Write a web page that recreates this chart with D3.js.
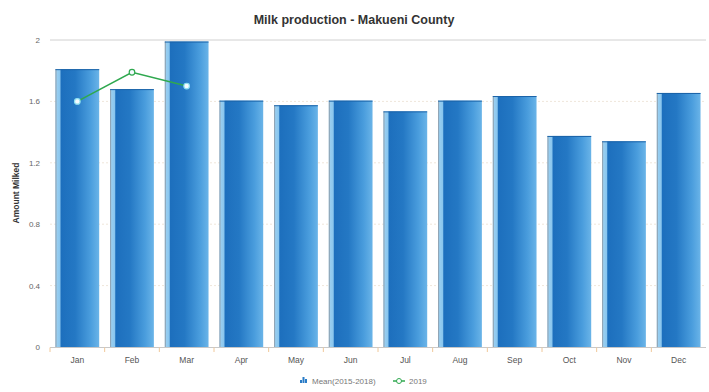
<!DOCTYPE html>
<html><head><meta charset="utf-8">
<script src="https://cdn.jsdelivr.net/npm/d3@7"></script>
<style>body{margin:0;background:#fff;}svg{display:block;font-family:"Liberation Sans",Arial,sans-serif;}</style>
</head><body><svg id="c" width="709" height="392"></svg>
<script>
const months = ["Jan","Feb","Mar","Apr","May","Jun","Jul","Aug","Sep","Oct","Nov","Dec"];
const meanValues = [1.81,1.68,1.99,1.605,1.575,1.605,1.535,1.605,1.635,1.375,1.34,1.655];
const months2019 = ["Jan","Feb","Mar"];
const values2019 = [1.60,1.79,1.70];
const yTicks = [0,0.4,0.8,1.2,1.6,2];
const yTickLabels = ["0","0.4","0.8","1.2","1.6","2"];
const seriesNames = ["Mean(2015-2018)","2019"];

const svg = d3.select("#c");
const m = {l:50, r:3, t:40, b:45};
const W = 709, H = 392;
const x = d3.scaleBand().domain(months).range([m.l, W-m.r]).paddingInner(0.2).paddingOuter(0.1);
const xc = d3.scaleBand().domain(months).range([m.l, W-m.r]);
const y = d3.scaleLinear().domain([0,2]).range([347, 40]);

const defs = svg.append("defs");
const g = defs.append("linearGradient").attr("id","bg").attr("x1","0").attr("x2","1").attr("y1","0").attr("y2","0");
[[0,"#9fd2f2"],[0.1,"#8ac6ee"],[0.13,"#1d6fbd"],[0.45,"#2478c4"],[0.8,"#4a9ddd"],[1,"#6ab4e8"]].forEach(s=>g.append("stop").attr("offset",s[0]).attr("stop-color",s[1]));

// title
svg.append("text").attr("x",354).attr("y",24).attr("text-anchor","middle").attr("font-size",12.5).attr("font-weight","bold").attr("fill","#333").text("Milk production - Makueni County");

// grid
svg.append("g").selectAll("line").data(yTicks.filter(d=>d>0)).join("line")
  .attr("x1",m.l).attr("x2",W-m.r).attr("y1",d=>y(d)).attr("y2",d=>y(d))
  .attr("stroke",d=>d===2?"#d0d0d0":"#efe6da").attr("stroke-width",1)
  .attr("stroke-dasharray",d=>d===2?null:"2,2");

// y axis labels
const yAxis = d3.axisLeft(y).tickValues(yTicks).tickFormat((d,i)=>yTickLabels[i]).tickSize(0).tickPadding(10);
const ya = svg.append("g").attr("transform",`translate(${m.l},0)`).call(yAxis);
ya.select(".domain").remove();
ya.selectAll("text").attr("font-size",8).attr("fill","#666").attr("font-family","Liberation Sans, Arial, sans-serif");

svg.append("text").attr("transform","translate(19,193) rotate(-90)").attr("text-anchor","middle")
  .attr("font-size",8.5).attr("font-weight","bold").attr("fill","#333").text("Amount Milked");

// bars
const bars = svg.append("g");
bars.selectAll("rect.b").data(meanValues).join("rect").attr("class","b")
  .attr("x",(d,i)=>x(months[i])).attr("width",x.bandwidth())
  .attr("y",d=>y(d)).attr("height",d=>y(0)-y(d)).attr("fill","url(#bg)");
bars.selectAll("line.s").data(meanValues).join("line").attr("class","s")
  .attr("x1",(d,i)=>x(months[i])+0.5).attr("x2",(d,i)=>x(months[i])+0.5)
  .attr("y1",d=>y(d)).attr("y2",y(0)).attr("stroke","#8e9fae").attr("stroke-width",1);
bars.selectAll("line.t").data(meanValues).join("line").attr("class","t")
  .attr("x1",(d,i)=>x(months[i])).attr("x2",(d,i)=>x(months[i])+x.bandwidth())
  .attr("y1",d=>y(d)+0.5).attr("y2",d=>y(d)+0.5).attr("stroke","#1b63a8").attr("stroke-width",1);

// x axis
svg.append("line").attr("x1",m.l).attr("x2",W-m.r).attr("y1",347.5).attr("y2",347.5).attr("stroke","#c8c8c8");
svg.append("g").selectAll("line").data(months).join("line")
  .attr("x1",d=>xc(d)).attr("x2",d=>xc(d)).attr("y1",347.5).attr("y2",352).attr("stroke","#f0c89a");
const xa = svg.append("g").attr("transform","translate(0,347)").call(d3.axisBottom(xc).tickSize(0).tickPadding(10));
xa.select(".domain").remove();
xa.selectAll("text").attr("font-size",8.5).attr("fill","#555").attr("font-family","Liberation Sans, Arial, sans-serif");

// line 2019
const line = d3.line().x((d,i)=>xc(months2019[i])+xc.bandwidth()/2).y(d=>y(d));
svg.append("path").datum(values2019).attr("d",line).attr("fill","none").attr("stroke","#2fa84f").attr("stroke-width",1.6);
svg.append("g").selectAll("circle").data(values2019).join("circle")
  .attr("cx",(d,i)=>xc(months2019[i])+xc.bandwidth()/2).attr("cy",d=>y(d)).attr("r",2.8)
  .attr("fill","#f4fbff").attr("stroke",(d,i)=>i===1?"#2fa84f":"#8fe0f0").attr("stroke-width",1.2);

// legend
const lg = svg.append("g");
const ix = 300, iy = 381;
[[0,3,2],[2.5,6,2],[5,4,2]].forEach(b=>lg.append("rect").attr("x",ix+b[0]).attr("y",iy+2-b[1]).attr("width",b[2]).attr("height",b[1]).attr("fill","#2a7cc7"));
lg.append("text").attr("x",ix+12).attr("y",iy+3).attr("font-size",8).attr("fill","#777").text(seriesNames[0]);
lg.append("line").attr("x1",393).attr("x2",405).attr("y1",iy).attr("y2",iy).attr("stroke","#2fa84f").attr("stroke-width",1.5);
lg.append("circle").attr("cx",399).attr("cy",iy).attr("r",2.5).attr("fill","#fff").attr("stroke","#2fa84f");
lg.append("text").attr("x",409).attr("y",iy+3).attr("font-size",8).attr("fill","#777").text(seriesNames[1]);
</script></body></html>
